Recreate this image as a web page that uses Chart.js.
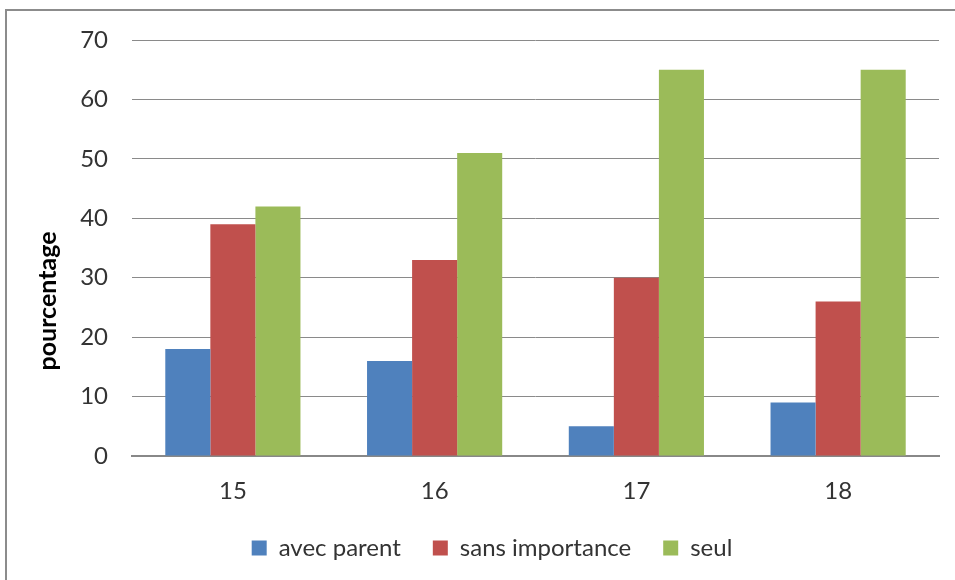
<!DOCTYPE html>
<html>
<head>
<meta charset="utf-8">
<script src="https://cdn.jsdelivr.net/npm/chart.js@4/dist/chart.umd.min.js"></script>
<style>
  html, body { margin: 0; padding: 0; background: #fff; overflow: hidden; }
  #wrap { position: relative; width: 955px; height: 580px; }
  #frame { position: absolute; left: 5px; top: 9px; width: 1000px; height: 700px;
           border: 2px solid #8c8c8c; box-sizing: border-box; pointer-events: none; }
</style>
</head>
<body>
<div id="wrap">
  <canvas id="c" width="955" height="580"></canvas>
  <div id="frame"></div>
</div>
<script>
const categories = ['15', '16', '17', '18'];
const avecParent = [18, 16, 5, 9];
const sansImportance = [39, 33, 30, 26];
const seul = [42, 51, 65, 65];
const seriesNames = ['avec parent', 'sans importance', 'seul'];
const yTitle = 'pourcentage';

const FONT = 'Lato, "Open Sans", sans-serif';
const TXT = '#333333';

// Y-axis title, placed like the original (centred on the chart height, not the plot)
const yTitlePlugin = {
  id: 'yTitle',
  afterDraw(chart) {
    const ctx = chart.ctx;
    ctx.save();
    ctx.translate(48, 301);
    ctx.rotate(-Math.PI / 2);
    ctx.font = 'bold 25px ' + FONT;
    ctx.fillStyle = '#000';
    ctx.textAlign = 'center';
    ctx.textBaseline = 'middle';
    ctx.fillText(yTitle, 0, 0);
    ctx.restore();
  }
};

new Chart(document.getElementById('c'), {
  type: 'bar',
  data: {
    labels: categories,
    datasets: [
      { label: seriesNames[0], data: avecParent, backgroundColor: '#4F81BD' },
      { label: seriesNames[1], data: sansImportance, backgroundColor: '#C0504D' },
      { label: seriesNames[2], data: seul, backgroundColor: '#9BBB59' }
    ]
  },
  plugins: [yTitlePlugin],
  options: {
    responsive: false,
    animation: false,
    events: [],
    datasets: { bar: { categoryPercentage: 0.67, barPercentage: 1.0, borderWidth: 0 } },
    layout: { padding: { top: 40, right: 16, left: 45, bottom: 10 } },
    plugins: {
      tooltip: { enabled: false },
      legend: {
        position: 'bottom',
        labels: {
          font: { family: FONT, size: 24 },
          color: TXT,
          boxWidth: 15, boxHeight: 15,
          padding: 32
        }
      }
    },
    scales: {
      x: {
        afterFit: (s) => { s.height = 48; },
        grid: { display: false, drawTicks: false },
        border: { display: true, color: '#888888', width: 2 },
        ticks: { font: { family: FONT, size: 24 }, color: TXT, padding: 21 }
      },
      y: {
        min: 0, max: 70,
        afterFit: (s) => { s.width = 87; },
        grid: { color: '#8a8a8a', lineWidth: 1, drawTicks: false },
        border: { display: false },
        ticks: { stepSize: 10, font: { family: FONT, size: 24 }, color: TXT, padding: 24 }
      }
    }
  }
});
</script>
</body>
</html>
